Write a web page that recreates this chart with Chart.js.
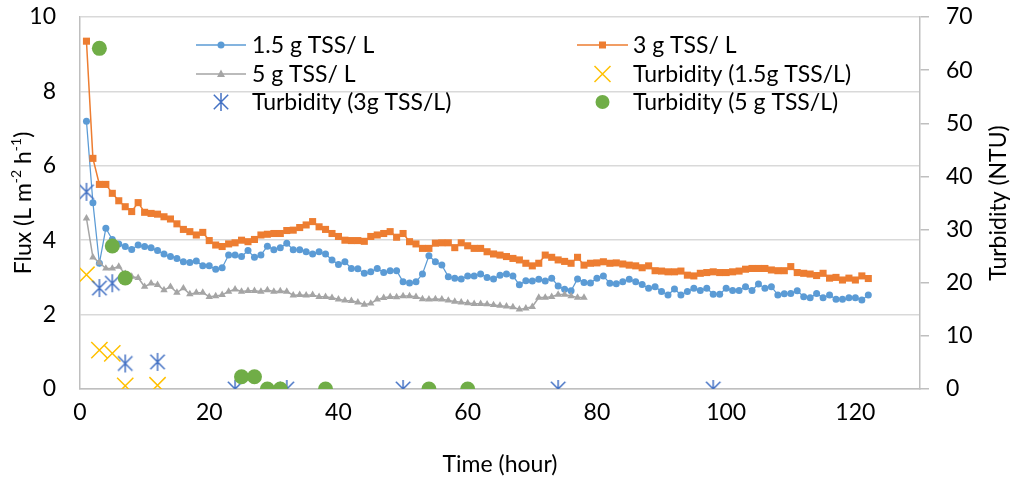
<!DOCTYPE html>
<html><head><meta charset="utf-8">
<script src="https://cdn.jsdelivr.net/npm/chart.js@4.4.0/dist/chart.umd.min.js"></script>
<style>html,body{margin:0;padding:0;background:#fff}#wrap{width:1013px;height:479px}</style>
</head><body><div id="wrap"><canvas id="c" width="1013" height="479"></canvas></div>
<script>
// ---------- data ----------
const hours = [1,2,3,4,5,6,7,8,9,10,11,12,13,14,15,16,17,18,19,20,
21,22,23,24,25,26,27,28,29,30,31,32,33,34,35,36,37,38,39,40,
41,42,43,44,45,46,47,48,49,50,51,52,53,54,55,56,57,58,59,60,
61,62,63,64,65,66,67,68,69,70,71,72,73,74,75,76,77,78,79,80,
81,82,83,84,85,86,87,88,89,90,91,92,93,94,95,96,97,98,99,100,
101,102,103,104,105,106,107,108,109,110,111,112,113,114,115,116,117,118,119,120,
121,122];
const flux15 = [7.20,5.01,3.38,4.32,4.02,3.90,3.83,3.75,3.87,3.83,
3.80,3.72,3.63,3.56,3.51,3.42,3.40,3.44,3.31,3.31,
3.22,3.26,3.60,3.60,3.56,3.72,3.54,3.60,3.84,3.74,
3.80,3.92,3.74,3.74,3.69,3.63,3.69,3.63,3.47,3.35,
3.42,3.24,3.23,3.11,3.15,3.24,3.13,3.18,3.18,2.88,
2.85,2.88,3.09,3.58,3.42,3.33,3.02,2.98,2.96,3.04,
3.04,3.09,3.00,2.96,3.06,3.09,3.04,2.80,2.91,2.90,
2.95,2.90,2.98,2.77,2.68,2.64,2.96,2.86,2.85,2.98,
3.04,2.84,2.83,2.88,2.95,2.88,2.81,2.71,2.75,2.62,
2.53,2.69,2.53,2.62,2.71,2.65,2.71,2.55,2.55,2.71,
2.65,2.65,2.75,2.65,2.82,2.71,2.75,2.53,2.56,2.57,
2.64,2.48,2.45,2.57,2.45,2.53,2.41,2.41,2.45,2.45,
2.39,2.53];
const flux3 = [9.35,6.20,5.50,5.50,5.26,5.06,4.90,4.77,5.01,4.75,
4.72,4.70,4.63,4.57,4.44,4.29,4.23,4.14,4.21,3.99,
3.87,3.83,3.90,3.93,4.00,3.96,4.02,4.14,4.16,4.18,
4.18,4.26,4.27,4.34,4.41,4.50,4.36,4.29,4.18,4.10,
4.00,3.99,3.99,3.97,4.10,4.14,4.18,4.23,4.08,4.18,
3.96,3.90,3.78,3.78,3.92,3.93,3.93,3.80,3.93,3.85,
3.78,3.78,3.69,3.63,3.60,3.56,3.51,3.47,3.38,3.31,
3.38,3.60,3.54,3.47,3.43,3.38,3.54,3.33,3.38,3.39,
3.42,3.38,3.39,3.36,3.33,3.31,3.26,3.31,3.18,3.17,
3.15,3.15,3.17,3.06,3.04,3.11,3.13,3.15,3.13,3.13,
3.15,3.17,3.22,3.24,3.24,3.24,3.20,3.18,3.18,3.29,
3.13,3.11,3.09,3.05,3.11,2.98,3.00,2.93,2.98,2.93,
3.04,2.97];
const flux5 = [4.59,3.54,3.40,3.24,3.24,3.29,3.10,3.02,2.99,2.75,
2.84,2.80,2.66,2.75,2.59,2.71,2.55,2.59,2.59,2.48,
2.50,2.53,2.62,2.68,2.62,2.64,2.64,2.62,2.66,2.62,
2.63,2.62,2.52,2.53,2.52,2.53,2.48,2.48,2.45,2.41,
2.38,2.37,2.33,2.27,2.30,2.41,2.45,2.48,2.47,2.50,
2.50,2.48,2.42,2.41,2.42,2.41,2.38,2.35,2.33,2.31,
2.29,2.29,2.28,2.26,2.24,2.22,2.20,2.14,2.17,2.21,
2.46,2.46,2.48,2.54,2.54,2.50,2.46,2.46];
const turb15Hours = [1,3,5,7,12];
const turb15 = [21.5,7.3,6.7,0.6,0.7];
const turb3Hours = [1,3,5,7,12,24,32,50,74,98];
const turb3 = [37.1,19.0,19.9,4.8,5.1,0,0,0,0,0];
const turb5Hours = [3,5,7,25,27,29,31,38,54,60];
const turb5 = [64.1,26.9,20.9,2.3,2.3,0,0,0,0,0];
const xTicks = [0,20,40,60,80,100,120];
const fluxTicks = [0,2,4,6,8,10];
const turbTicks = [0,10,20,30,40,50,60,70];
const seriesNames = ['1.5 g TSS/ L','3 g TSS/ L','5 g TSS/ L','Turbidity (1.5g TSS/L)','Turbidity (3g TSS/L)','Turbidity (5 g TSS/L)'];
const xTitle = 'Time (hour)';
const yTitleParts = [['Flux (L m',0],['-2',1],[' h',0],['-1',1],[')',0]];
const y2Title = 'Turbidity (NTU)';

// ---------- styling ----------
const FAM = "Lato, 'Open Sans', sans-serif";
const FS = 23;
const C_BLUE = '#5B9BD5', C_ORANGE = '#ED7D31', C_GRAY = '#A5A5A5', C_YEL = '#FFC000', C_DBLUE = '#4472C4', C_GREEN = '#70AD47';

function asteriskCanvas(size, color, lw){
  const c = document.createElement('canvas'); c.width = size; c.height = size;
  const g = c.getContext('2d'); g.strokeStyle = color; g.lineWidth = lw; g.lineCap='butt';
  const m = size/2, r = size/2 - 1, d = r*0.8;
  g.beginPath();
  g.moveTo(m, m-r); g.lineTo(m, m+r);
  g.moveTo(m-d, m-d); g.lineTo(m+d, m+d);
  g.moveTo(m+d, m-d); g.lineTo(m-d, m+d);
  g.stroke();
  return c;
}
const astImg = asteriskCanvas(20, C_DBLUE, 1.5);

const xy = (xs, ys) => ys.map((v,i)=>({x:xs[i], y:v}));

function drawMarker(ctx, kind, x, y){
  ctx.save();
  if (kind==='circle'){ ctx.fillStyle=C_BLUE; ctx.beginPath(); ctx.arc(x,y,3.5,0,Math.PI*2); ctx.fill(); }
  else if (kind==='rect'){ ctx.fillStyle=C_ORANGE; ctx.fillRect(x-3.5,y-3.5,7,7); }
  else if (kind==='tri'){ ctx.fillStyle=C_GRAY; ctx.beginPath(); ctx.moveTo(x,y-4.5); ctx.lineTo(x+4,y+3); ctx.lineTo(x-4,y+3); ctx.closePath(); ctx.fill(); }
  else if (kind==='x'){ ctx.strokeStyle=C_YEL; ctx.lineWidth=1.5; const d=8; ctx.beginPath(); ctx.moveTo(x-d,y-d); ctx.lineTo(x+d,y+d); ctx.moveTo(x+d,y-d); ctx.lineTo(x-d,y+d); ctx.stroke(); }
  else if (kind==='ast'){ ctx.drawImage(astImg, x-10, y-10); }
  else if (kind==='dot'){ ctx.fillStyle=C_GREEN; ctx.beginPath(); ctx.arc(x,y,7,0,Math.PI*2); ctx.fill(); }
  ctx.restore();
}

const overlay = {
  id:'overlay',
  afterDraw(chart){
    const ctx = chart.ctx, ca = chart.chartArea;
    ctx.save();
    ctx.fillStyle = '#000';
    ctx.font = FS + 'px ' + FAM;
    ctx.textAlign = 'center'; ctx.textBaseline = 'middle';
    ctx.fillText(xTitle, (ca.left+ca.right)/2, 465);
    const cy = (ca.top+ca.bottom)/2;
    ctx.save(); ctx.translate(999, cy); ctx.rotate(-Math.PI/2); ctx.fillText(y2Title, 0, 0); ctx.restore();
    // left title with superscripts
    const supF = Math.round(FS*0.62) + 'px ' + FAM, mainF = FS + 'px ' + FAM;
    let tot = 0;
    yTitleParts.forEach(p=>{ ctx.font = p[1]?supF:mainF; tot += ctx.measureText(p[0]).width; });
    ctx.save(); ctx.translate(24, cy); ctx.rotate(-Math.PI/2);
    ctx.textAlign = 'left';
    let px = -tot/2;
    yTitleParts.forEach(p=>{ ctx.font = p[1]?supF:mainF; ctx.fillText(p[0], px, p[1] ? -FS*0.32 : 0); px += ctx.measureText(p[0]).width; });
    ctx.restore();
    // legend
    ctx.font = mainF; ctx.textAlign='left'; ctx.textBaseline='middle';
    const rows = [45, 74, 102];
    const cols = [[196,246,252],[577,628,633]];
    const items = [
      {c:0,r:0,line:C_BLUE,m:'circle'},
      {c:1,r:0,line:C_ORANGE,m:'rect'},
      {c:0,r:1,line:C_GRAY,m:'tri'},
      {c:1,r:1,line:null,m:'x'},
      {c:0,r:2,line:null,m:'ast'},
      {c:1,r:2,line:null,m:'dot'}
    ];
    items.forEach((it,i)=>{
      const [x0,x1,tx] = cols[it.c]; const y = rows[it.r]; const mx=(x0+x1)/2;
      if (it.line){ ctx.strokeStyle=it.line; ctx.lineWidth=1.5; ctx.beginPath(); ctx.moveTo(x0,y); ctx.lineTo(x1,y); ctx.stroke(); }
      drawMarker(ctx, it.m, mx, y);
      ctx.fillStyle='#000';
      ctx.fillText(seriesNames[i], tx, y+1);
    });
    ctx.restore();
  }
};

const tickFont = {family: FAM, size: FS};
const noPad = s => { s.paddingTop = 0; s.paddingBottom = 0; s.paddingLeft = 0; s.paddingRight = 0; };

new Chart(document.getElementById('c'), {
  type: 'line',
  data: {
    datasets: [
      {label:seriesNames[0], data:xy(hours, flux15), yAxisID:'y', borderColor:C_BLUE, backgroundColor:C_BLUE, borderWidth:1.25, pointStyle:'circle', pointRadius:3.5, pointBorderWidth:0, order:6},
      {label:seriesNames[1], data:xy(hours, flux3), yAxisID:'y', borderColor:C_ORANGE, backgroundColor:C_ORANGE, borderWidth:1.5, pointStyle:'rect', pointRadius:5, pointBorderWidth:0, order:5},
      {label:seriesNames[2], data:xy(hours.slice(0, flux5.length), flux5), yAxisID:'y', borderColor:C_GRAY, backgroundColor:C_GRAY, borderWidth:1.5, pointStyle:'triangle', pointRadius:4.3, pointBorderWidth:0, order:4},
      {label:seriesNames[3], data:xy(turb15Hours, turb15), yAxisID:'y2', showLine:false, borderColor:C_YEL, backgroundColor:C_YEL, pointStyle:'crossRot', pointRadius:11.5, pointBorderWidth:1.5, order:3},
      {label:seriesNames[4], data:xy(turb3Hours, turb3), yAxisID:'y2', showLine:false, borderColor:C_DBLUE, backgroundColor:C_DBLUE, pointStyle:astImg, order:2},
      {label:seriesNames[5], data:xy(turb5Hours, turb5), yAxisID:'y2', showLine:false, borderColor:C_GREEN, backgroundColor:C_GREEN, pointStyle:'circle', pointRadius:7.5, pointBorderWidth:0, order:1}
    ]
  },
  options: {
    responsive:false, animation:false,
    layout:{padding:{top:17,left:0,right:0,bottom:0}},
    plugins:{legend:{display:false}, tooltip:{enabled:false}},
    elements:{line:{tension:0}},
    scales:{
      x:{type:'linear', min:0, max:130,
         afterBuildTicks:s=>{ s.ticks = xTicks.map(v=>({value:v})); },
         afterFit:s=>{ s.height = 90; noPad(s); },
         grid:{display:false, drawTicks:false},
         border:{display:true, color:'#bfbfbf', width:1.5},
         ticks:{font:tickFont, color:'#000', padding:10, maxRotation:0}},
      y:{position:'left', min:0, max:10,
         afterBuildTicks:s=>{ s.ticks = fluxTicks.map(v=>({value:v})); },
         afterFit:s=>{ s.width = 80; noPad(s); },
         grid:{color:'#d9d9d9', lineWidth:1.5, drawTicks:false},
         border:{display:true, color:'#bfbfbf', width:1.5},
         ticks:{font:tickFont, color:'#000', padding:24}},
      y2:{position:'right', min:0, max:70,
         afterBuildTicks:s=>{ s.ticks = turbTicks.map(v=>({value:v})); },
         afterFit:s=>{ s.width = 93; noPad(s); },
         grid:{drawOnChartArea:false, drawTicks:true, tickLength:9, color:'#bfbfbf', lineWidth:1.5},
         border:{display:true, color:'#bfbfbf', width:1.5},
         ticks:{font:tickFont, color:'#000', padding:17}}
    }
  },
  plugins:[overlay]
});
</script>
</body></html>
